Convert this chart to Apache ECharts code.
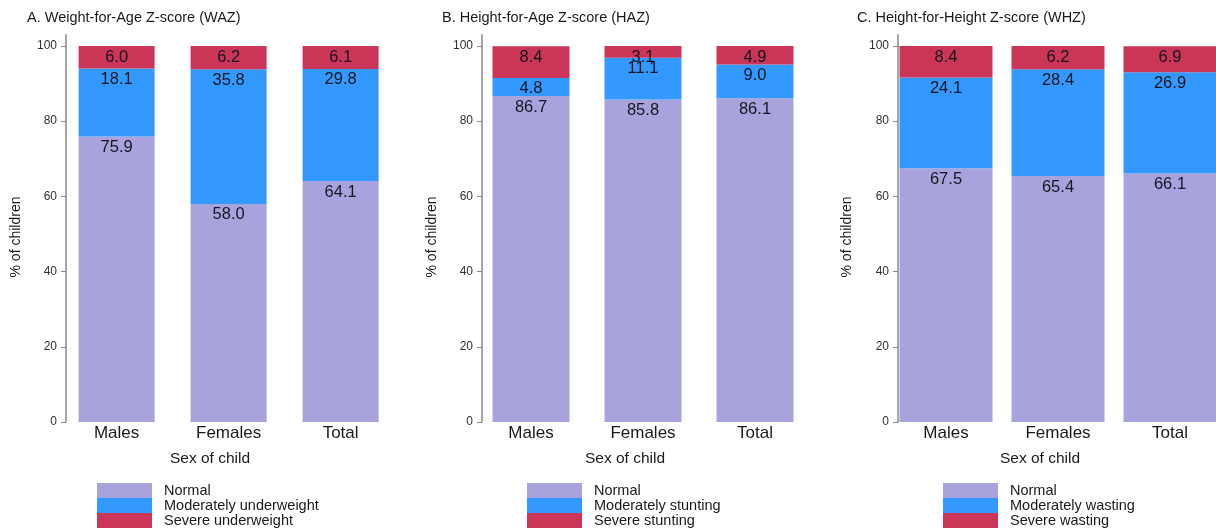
<!DOCTYPE html>
<html>
<head>
<meta charset="utf-8">
<script src="https://cdn.jsdelivr.net/npm/echarts@6/dist/echarts.min.js"></script>
<style>
html,body{margin:0;padding:0;background:#fff;overflow:hidden;width:1216px;height:531px;}
#c{width:1240px;height:531px;}
</style>
</head>
<body>
<div id="c"></div>
<script>
const categories = ['Males', 'Females', 'Total'];
const yTicks = [0, 20, 40, 60, 80, 100];

const wazNormal = [75.9, 58.0, 64.1];
const wazModerate = [18.1, 35.8, 29.8];
const wazSevere = [6.0, 6.2, 6.1];

const hazNormal = [86.7, 85.8, 86.1];
const hazModerate = [4.8, 11.1, 9.0];
const hazSevere = [8.4, 3.1, 4.9];

const whzNormal = [67.5, 65.4, 66.1];
const whzModerate = [24.1, 28.4, 26.9];
const whzSevere = [8.4, 6.2, 6.9];

const titles = ['A. Weight-for-Age Z-score (WAZ)', 'B. Height-for-Age Z-score (HAZ)', 'C. Height-for-Height Z-score (WHZ)'];
const legendNames = [
  ['Normal', 'Moderately underweight', 'Severe underweight'],
  ['Normal', 'Moderately stunting', 'Severe stunting'],
  ['Normal', 'Moderately wasting', 'Severe wasting']
];
const panelData = [
  [wazNormal, wazModerate, wazSevere],
  [hazNormal, hazModerate, hazSevere],
  [whzNormal, whzModerate, whzSevere]
];

const colors = ['#A8A3DC', '#3399FF', '#CB3558'];
const font = 'Liberation Sans, Arial, sans-serif';

// layout per panel
const layout = [
  { gridLeft: 60.6, axisOffset: -5.4, barWidth: 76, titleX: 27, yNameX: 16, xNameX: 210, legendLeft: 97 },
  { gridLeft: 475, axisOffset: -7, barWidth: 77, titleX: 442, yNameX: 432, xNameX: 625, legendLeft: 527 },
  { gridLeft: 890, axisOffset: -8, barWidth: 93, titleX: 857, yNameX: 847, xNameX: 1040, legendLeft: 943 }
];

const grid = [], xAxis = [], yAxis = [], series = [], legend = [], title = [], graphic = [];

layout.forEach((L, p) => {
  grid.push({ left: L.gridLeft, top: 34.7, width: 336, height: 387.3 });
  xAxis.push({
    type: 'category', gridIndex: p, data: categories,
    axisLine: { show: false }, axisTick: { show: false },
    axisLabel: { fontSize: 17, color: '#1a1a1a', fontFamily: font, margin: 3 },
    name: 'Sex of child', nameLocation: 'middle', nameGap: 29,
    nameTextStyle: { fontSize: 15.5, color: '#1a1a1a', fontFamily: font,
      padding: [0, 2 * (L.gridLeft + 168 - L.xNameX), 0, 0] }
  });
  yAxis.push({
    type: 'value', gridIndex: p, min: 0, max: 103, interval: 20,
    offset: L.axisOffset,
    splitLine: { show: false },
    axisLine: { show: true, lineStyle: { color: '#8a8a8a', width: 1.5 } },
    axisTick: { show: true, length: 5, lineStyle: { color: '#8a8a8a' }, customValues: yTicks },
    axisLabel: { fontSize: 12, color: '#333', fontFamily: font, margin: 9, customValues: yTicks }
  });
  title.push({
    text: titles[p], left: L.titleX, top: 10.5,
    textStyle: { fontSize: 14.5, fontWeight: 'normal', color: '#1a1a1a', fontFamily: font },
    padding: 0
  });
  graphic.push({
    type: 'text', x: L.yNameX, y: 237, rotation: Math.PI / 2,
    style: { text: '% of children', align: 'center', verticalAlign: 'middle',
      fontSize: 14, fill: '#1a1a1a', fontFamily: font }
  });
  legend.push({
    orient: 'vertical', left: L.legendLeft, top: 483, padding: 0,
    itemWidth: 55, itemHeight: 15, itemGap: 0, icon: 'rect', selectedMode: false,
    data: legendNames[p],
    textStyle: { fontSize: 14.5, lineHeight: 15, color: '#1a1a1a', fontFamily: font, padding: [0, 0, 0, 7] }
  });
  panelData[p].forEach((vals, k) => {
    series.push({
      type: 'bar', name: legendNames[p][k], stack: 'p' + p,
      xAxisIndex: p, yAxisIndex: p, barWidth: L.barWidth,
      data: vals,
      itemStyle: { color: colors[k] },
      label: {
        show: true, position: 'insideTop', distance: 2.5,
        fontSize: 16.5, color: '#15151f', fontFamily: font,
        formatter: (d) => Number(d.value).toFixed(1)
      }
    });
  });
});

const chart = echarts.init(document.getElementById('c'), null, { renderer: 'canvas' });
chart.setOption({
  animation: false,
  backgroundColor: '#fff',
  title, grid, xAxis, yAxis, legend, series, graphic
});
</script>
</body>
</html>
